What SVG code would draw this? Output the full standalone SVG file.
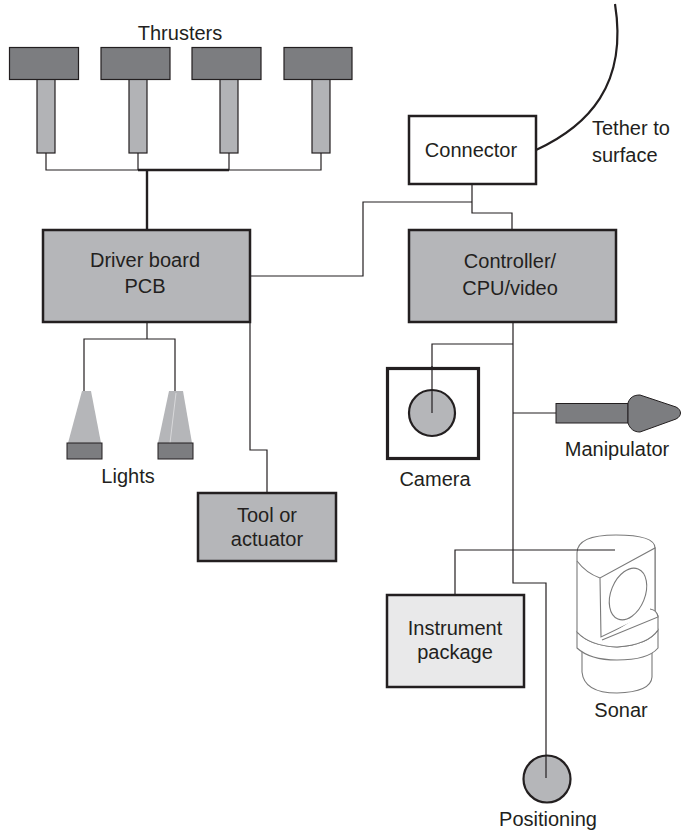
<svg xmlns="http://www.w3.org/2000/svg" width="683" height="833" viewBox="0 0 683 833">
  <style>
    text { font-family: "Liberation Sans", Arial, sans-serif; font-size: 20px; fill: #231f20; }
    .mid { text-anchor: middle; }
    .box { fill: #b5b6b9; stroke: #231f20; stroke-width: 2.5; }
    .head { fill: #7c7d80; stroke: #231f20; stroke-width: 1.2; }
    .shaft { fill: #b2b3b6; stroke: #231f20; stroke-width: 1.2; }
    .wire { fill: none; stroke: #231f20; stroke-width: 1.2; }
    .wire-bold { fill: none; stroke: #231f20; stroke-width: 2.4; }
    .lamp { fill: #b5b6b9; stroke: none; }
    .lamp-base { fill: #7c7d80; stroke: #231f20; stroke-width: 1; }
    .sonar { fill: #ffffff; stroke: #7a7a7a; stroke-width: 1.1; }
  </style>

  <!-- connectors -->
  <g id="connectors">
    <!-- thruster harness -->
    <polyline class="wire" points="46,153 46,170 321,170 321,153"/>
    <line class="wire" x1="138" y1="153" x2="138" y2="170"/>
    <line class="wire" x1="229" y1="153" x2="229" y2="170"/>
    <polyline class="wire-bold" points="138,170 229,170"/>
    <line class="wire-bold" x1="147" y1="170" x2="147" y2="230"/>
    <!-- driver board to connector and controller -->
    <polyline class="wire" points="250,276 363,276 363,202 472,202"/>
    <polyline class="wire" points="472,184 472,213 512,213 512,230"/>
    <!-- tether -->
    <path d="M536,150 C588,126 628,85 615,4" fill="none" stroke="#231f20" stroke-width="2.2"/>
    <!-- lights -->
    <polyline class="wire" points="147,322 147,339"/>
    <polyline class="wire" points="84,391 84,339 175,339 175,391"/>
    <!-- tool -->
    <polyline class="wire" points="250,322 250,450 267,450 267,493"/>
    <!-- controller trunk -->
    <polyline class="wire" points="513,322 513,583 546,583 546,778"/>
    <polyline class="wire" points="432,413 432,344 513,344"/>
    <line class="wire" x1="513" y1="413" x2="556" y2="413"/>
    <polyline class="wire" points="455,595 455,550 615,550"/>
  </g>

  <text class="mid" x="180" y="40">Thrusters</text>

  <g id="thruster-1">
    <rect class="shaft" x="37" y="79" width="18" height="74"/>
    <rect class="head" x="9.5" y="47.5" width="69" height="32"/>
  </g>
  <g id="thruster-2">
    <rect class="shaft" x="129" y="79" width="18" height="74"/>
    <rect class="head" x="101" y="47.5" width="69" height="32"/>
  </g>
  <g id="thruster-3">
    <rect class="shaft" x="220" y="79" width="18" height="74"/>
    <rect class="head" x="192" y="47.5" width="69" height="32"/>
  </g>
  <g id="thruster-4">
    <rect class="shaft" x="312" y="79" width="18" height="74"/>
    <rect class="head" x="284" y="47.5" width="68" height="32"/>
  </g>

  <g id="connector">
    <rect x="409" y="116" width="127" height="68" fill="#ffffff" stroke="#231f20" stroke-width="2.5"/>
    <text class="mid" x="471" y="157">Connector</text>
  </g>
  <text x="592" y="135">Tether to</text>
  <text x="592" y="162">surface</text>

  <g id="driver-board">
    <rect class="box" x="43" y="230" width="207" height="92"/>
    <text class="mid" x="145" y="267">Driver board</text>
    <text class="mid" x="145" y="293">PCB</text>
  </g>

  <g id="controller">
    <rect class="box" x="409" y="230" width="207" height="92"/>
    <text class="mid" x="510" y="268">Controller/</text>
    <text class="mid" x="510" y="295">CPU/video</text>
  </g>

  <g id="lights">
    <polygon class="lamp" points="82,391 91,391 101,443 68,443"/>
    <rect class="lamp-base" x="67" y="443" width="35" height="16"/>
    <polygon class="lamp" points="169,391 183,391 192,443 158,443"/>
    <line x1="176" y1="393" x2="170" y2="443" stroke="#d8d8da" stroke-width="1"/>
    <rect class="lamp-base" x="158" y="443" width="35" height="16"/>
    <text class="mid" x="128" y="483">Lights</text>
  </g>

  <g id="tool">
    <rect class="box" x="198" y="493" width="138" height="68"/>
    <text class="mid" x="267" y="522">Tool or</text>
    <text class="mid" x="267" y="546">actuator</text>
  </g>

  <g id="camera">
    <rect x="387.5" y="368.5" width="91" height="90" fill="#ffffff" stroke="#231f20" stroke-width="3.2"/>
    <circle cx="432" cy="413" r="23" fill="#b5b6b9" stroke="#231f20" stroke-width="2.2"/>
    <line class="wire" x1="432" y1="413" x2="432" y2="366"/>
    <text class="mid" x="435" y="486">Camera</text>
  </g>

  <g id="manipulator">
    <rect x="556" y="403.5" width="72" height="19.5" fill="#7c7d80" stroke="#231f20" stroke-width="1"/>
    <path d="M628,403 C630,397 634,395 640,395 L676,407 C682,410 682,416 676,419 L640,432 C634,432 630,429 628,423 Z" fill="#7c7d80" stroke="#231f20" stroke-width="1"/>
    <text class="mid" x="617" y="456">Manipulator</text>
  </g>

  <g id="instrument-package">
    <rect x="387" y="595" width="137" height="92" fill="#e9e9ea" stroke="#231f20" stroke-width="2.5"/>
    <text class="mid" x="455" y="635">Instrument</text>
    <text class="mid" x="455" y="659">package</text>
  </g>

  <g id="sonar">
    <!-- lower body -->
    <path class="sonar" d="M582,650 L582,672 Q584,693 617,693 Q651,692 652,677 L652,650 Z"/>
    <!-- collar -->
    <path class="sonar" d="M577,632 L577,648 Q590,660 617,660 Q648,660 658,648 L658,630 Q648,645 617,647 Q590,646 577,632 Z"/>
    <!-- upper cylinder -->
    <path class="sonar" d="M577,553 C577,538 598,535 616,535 C640,535 655,539 655,548 L655,611 L658,616 L658,630 Q648,645 617,647 Q590,646 577,632 Z"/>
    <!-- cut face -->
    <path class="sonar" d="M577,561 Q586,573 600,578 L655,548 L655,611 L601,637 L600,578"/>
    <path class="sonar" d="M650,609 Q657,610 658,617 L602,640" fill="none"/>
    <ellipse class="sonar" cx="628" cy="594" rx="17" ry="27" transform="rotate(22 628 594)"/>
    <line class="wire" x1="577" y1="550" x2="615" y2="550"/>
    <text class="mid" x="621" y="717">Sonar</text>
  </g>

  <g id="positioning">
    <circle cx="547" cy="779" r="23.5" fill="#b5b6b9" stroke="#231f20" stroke-width="2.2"/>
    <line class="wire" x1="546" y1="755" x2="546" y2="778"/>
    <text class="mid" x="548" y="826">Positioning</text>
  </g>
</svg>
